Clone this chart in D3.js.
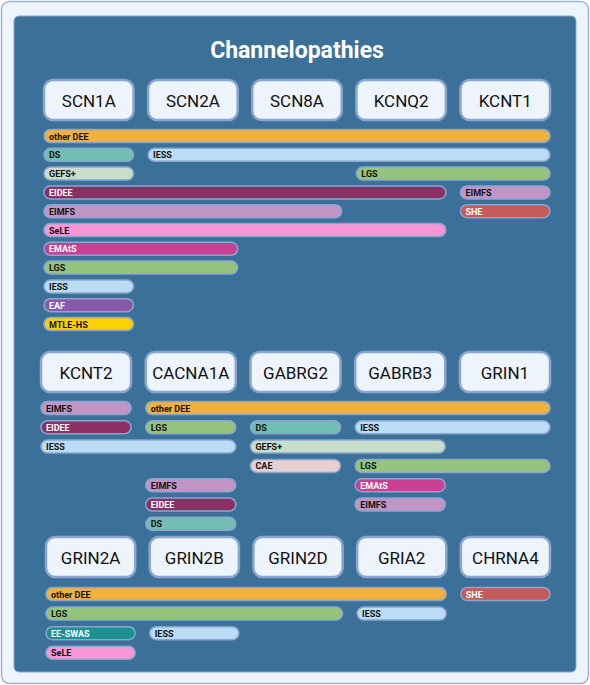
<!DOCTYPE html>
<html><head><meta charset="utf-8">
<script src="https://cdn.jsdelivr.net/npm/d3@7"></script>
<style>body{margin:0;background:#fff;font-family:Roboto,sans-serif}</style>
</head><body><svg id="chart"></svg>
<script>
// genes per section
const genes1 = ["SCN1A", "SCN2A", "SCN8A", "KCNQ2", "KCNT1"];
const genes2 = ["KCNT2", "CACNA1A", "GABRG2", "GABRB3", "GRIN1"];
const genes3 = ["GRIN2A", "GRIN2B", "GRIN2D", "GRIA2", "CHRNA4"];

// bars: [label, first gene column, last gene column, row]
const bars1 = [
  ["other DEE", 0, 4, 0], ["DS", 0, 0, 1], ["IESS", 1, 4, 1], ["GEFS+", 0, 0, 2],
  ["LGS", 3, 4, 2], ["EIDEE", 0, 3, 3], ["EIMFS", 4, 4, 3], ["EIMFS", 0, 2, 4],
  ["SHE", 4, 4, 4], ["SeLE", 0, 3, 5], ["EMAtS", 0, 1, 6], ["LGS", 0, 1, 7],
  ["IESS", 0, 0, 8], ["EAF", 0, 0, 9], ["MTLE-HS", 0, 0, 10]
];
const bars2 = [
  ["EIMFS", 0, 0, 0], ["other DEE", 1, 4, 0], ["EIDEE", 0, 0, 1], ["LGS", 1, 1, 1],
  ["DS", 2, 2, 1], ["IESS", 3, 4, 1], ["IESS", 0, 1, 2], ["GEFS+", 2, 3, 2],
  ["CAE", 2, 2, 3], ["LGS", 3, 4, 3], ["EIMFS", 1, 1, 4], ["EMAtS", 3, 3, 4],
  ["EIDEE", 1, 1, 5], ["EIMFS", 3, 3, 5], ["DS", 1, 1, 6]
];
const bars3 = [
  ["other DEE", 0, 3, 0], ["SHE", 4, 4, 0], ["LGS", 0, 2, 1], ["IESS", 3, 3, 1],
  ["EE-SWAS", 0, 0, 2], ["IESS", 1, 1, 2], ["SeLE", 0, 0, 3]
];

const colors = {
  "other DEE": "#f0b13f", "DS": "#73bdb3", "IESS": "#badcf4", "GEFS+": "#c8dec9",
  "LGS": "#95c47e", "EIDEE": "#8a3065", "EIMFS": "#c195c4", "SeLE": "#f896d6",
  "EMAtS": "#c83f93", "EAF": "#8759a8", "MTLE-HS": "#fcd100", "SHE": "#c55b5b",
  "CAE": "#e9d0d0", "EE-SWAS": "#1b9191"
};
const whiteText = new Set(["EIDEE", "EMAtS", "EAF", "SHE", "EE-SWAS"]);

const W = 590, H = 685;
const svg = d3.select("#chart").attr("width", W).attr("height", H);

svg.append("rect").attr("x", 1.5).attr("y", 1.5).attr("width", W - 3).attr("height", H - 3)
  .attr("rx", 8).attr("fill", "#eef4fc").attr("stroke", "#9db3d6").attr("stroke-width", 1.5);
svg.append("rect").attr("x", 14).attr("y", 16).attr("width", 562).attr("height", 656)
  .attr("rx", 5).attr("fill", "#3b7199").attr("stroke", "#8aa6cf").attr("stroke-width", 1);

svg.append("text").attr("x", 297).attr("y", 58).attr("text-anchor", "middle")
  .attr("fill", "#fff").attr("font-size", 23).attr("font-weight", "bold").text("Channelopathies");

const sections = [
  { genes: genes1, bars: bars1, x0: 44, x1: 550, boxY: 80, rowY0: 136, pitch: 18.8 },
  { genes: genes2, bars: bars2, x0: 41, x1: 550, boxY: 352, rowY0: 408, pitch: 19.3 },
  { genes: genes3, bars: bars3, x0: 46, x1: 550, boxY: 537, rowY0: 594, pitch: 19.6 }
];

sections.forEach(s => {
  const x = d3.scaleBand().domain(d3.range(s.genes.length)).range([s.x0, s.x1]).paddingInner(0.14);
  const y = d3.scaleLinear().domain([0, 1]).range([s.rowY0, s.rowY0 + s.pitch]);
  const g = svg.append("g");

  const box = g.selectAll(".gene").data(s.genes).join("g")
    .attr("transform", (d, i) => `translate(${x(i)},${s.boxY})`);
  box.append("rect").attr("width", x.bandwidth()).attr("height", 40).attr("rx", 9)
    .attr("fill", "#eef4fc").attr("stroke", "#8aa6cf").attr("stroke-width", 2.5);
  box.append("text").attr("x", x.bandwidth() / 2).attr("y", 27).attr("text-anchor", "middle")
    .attr("font-size", 17).attr("fill", "#111").text(d => d);

  const bar = g.selectAll(".bar").data(s.bars).join("g")
    .attr("transform", d => `translate(${x(d[1])},${y(d[3]) - 6.5})`);
  bar.append("rect").attr("width", d => x(d[2]) + x.bandwidth() - x(d[1])).attr("height", 13)
    .attr("rx", 6.5).attr("fill", d => colors[d[0]]).attr("stroke", "#8aa6cf").attr("stroke-width", 1.5);
  bar.append("text").attr("x", 5).attr("y", 10).attr("font-size", 9).attr("font-weight", "bold")
    .attr("fill", d => whiteText.has(d[0]) ? "#fff" : "#111").text(d => d[0]);
});
</script></body></html>
